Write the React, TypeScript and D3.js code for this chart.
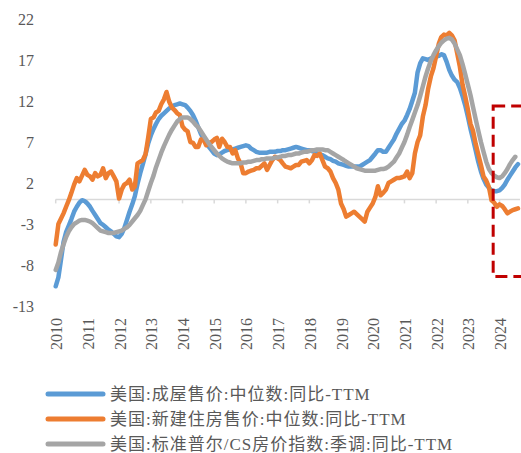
import React from 'react';
import * as d3 from 'd3';

const W = 521, H = 453;

// monthly, Jan 2010 onward (one row per year)
const existingHome = [
  -10.6, -9.5, -7.5, -5.2, -4.0, -3.2, -2.4, -1.5, -0.9, -0.4, -0.1, -0.2,
  -0.5, -0.9, -1.4, -1.9, -2.4, -2.9, -3.1, -3.4, -3.7, -3.9, -4.2, -4.5,
  -4.6, -4.2, -3.5, -2.5, -1.5, -0.6, 0.4, 1.9, 3.2, 4.3, 5.5, 6.8,
  7.8, 8.6, 9.2, 9.8, 10.2, 10.5, 10.8, 11.1, 11.3, 11.5, 11.6, 11.7,
  11.6, 11.5, 11.2, 10.8, 10.3, 9.6, 8.8, 8.0, 7.4, 6.9, 6.4, 6.0,
  5.6, 5.4, 5.5, 5.7, 5.9, 6.0, 6.1, 6.1, 6.2, 6.3, 6.4, 6.5,
  6.6, 6.5, 6.2, 6.0, 5.8, 5.7, 5.7, 5.7, 5.7, 5.8, 5.8, 5.8,
  5.9, 5.9, 6.0, 6.0, 6.1, 6.2, 6.3, 6.4, 6.3, 6.2, 6.1, 6.0,
  6.0, 5.9, 5.8, 5.6, 5.5, 5.4, 5.2, 5.0, 4.9, 4.7, 4.6, 4.4,
  4.3, 4.2, 4.1, 4.0, 4.0, 4.0, 4.0, 4.0, 4.2, 4.4, 4.6, 4.8,
  5.2, 5.6, 6.0, 6.0, 5.8, 5.8, 6.3, 6.8, 7.3, 8.0, 8.6, 9.2,
  9.6, 10.3, 11.0, 12.0, 13.0, 15.5, 16.6, 17.2, 17.1, 17.0, 17.2, 17.3,
  17.4, 17.5, 17.7, 17.6, 16.8, 15.8, 15.1, 14.6, 14.3, 13.6, 12.6, 11.5,
  10.1, 8.6, 7.4, 6.0, 4.6, 3.4, 2.5, 1.8, 1.4, 1.1, 1.0, 1.0,
  1.1, 1.4, 1.8, 2.4, 2.9, 3.4, 3.9, 4.3,
];

const newHome = [
  -5.5, -3.0, -2.4, -1.7, -0.9, -0.1, 0.8, 1.8, 2.6, 2.2, 2.9, 3.6,
  3.0, 2.8, 2.4, 3.2, 2.8, 3.0, 3.8, 2.6, 3.2, 3.4, 2.8, 2.2,
  0.1, 1.2, 1.8, 2.0, 2.4, 1.2, 1.6, 4.4, 4.6, 4.8, 5.5, 7.5,
  9.8, 10.0, 10.6, 10.8, 11.6, 12.2, 13.1, 11.9, 11.2, 10.9, 10.5, 10.3,
  8.9, 8.5, 8.3, 7.0, 6.9, 6.4, 6.4, 7.3, 7.3, 6.6, 6.9, 7.0,
  7.3, 7.5, 6.4, 7.4, 7.0, 6.4, 6.4, 5.6, 6.0, 5.0, 4.4, 3.2,
  3.2, 3.4, 3.5, 3.6, 3.8, 3.8, 4.1, 4.4, 3.6, 4.2, 4.8, 5.2,
  5.0, 4.8, 4.4, 4.0, 3.9, 3.8, 4.0, 4.2, 4.2, 4.6, 4.7, 4.8,
  4.4, 4.8, 5.4, 5.3, 5.6, 4.8, 4.0, 3.8, 3.4, 2.6, 2.0, 1.2,
  -0.5, -1.2, -2.1, -1.9, -1.7, -1.5, -1.8, -2.1, -2.4, -2.7, -1.5, -1.0,
  -0.5, 0.3, 1.6, 0.5, 0.8, 1.2, 2.0, 2.2, 2.4, 2.6, 2.6, 2.7,
  2.8, 3.4, 2.6, 3.2, 5.6, 7.0, 7.8, 10.1, 11.5, 13.5, 15.0, 16.0,
  17.5, 19.0, 19.8, 20.1, 20.0, 20.3, 20.0, 19.4, 17.8, 16.2, 14.0, 12.6,
  11.0, 9.2, 8.4, 6.8, 5.5, 4.2, 2.8, 2.3, 1.5, -0.1, -0.4, -0.9,
  -0.6, -0.8, -1.2, -1.7, -1.5, -1.3, -1.2, -1.1,
];

const caseShiller = [
  -8.6, -7.7, -6.5, -5.5, -4.6, -3.9, -3.4, -3.0, -2.8, -2.6, -2.5, -2.5,
  -2.6, -2.7, -2.9, -3.2, -3.5, -3.8, -3.9, -4.0, -4.1, -4.1, -4.1, -4.0,
  -3.9, -3.8, -3.6, -3.4, -3.1, -2.7, -2.3, -1.9, -1.4, -0.7, 0.0, 1.0,
  2.0, 2.9, 3.9, 4.8, 5.7, 6.5, 7.2, 7.9, 8.5, 9.0, 9.5, 9.8,
  10.0, 10.0, 10.0, 9.8, 9.5, 9.1, 8.8, 8.3, 7.8, 7.3, 6.8, 6.4,
  6.0, 5.6, 5.3, 5.0, 4.8, 4.6, 4.5, 4.4, 4.4, 4.4, 4.4, 4.5,
  4.5, 4.6, 4.6, 4.7, 4.8, 4.8, 4.9, 4.9, 5.0, 5.0, 5.0, 5.1,
  5.1, 5.2, 5.3, 5.3, 5.4, 5.4, 5.5, 5.6, 5.6, 5.7, 5.8, 5.8,
  5.9, 6.0, 6.0, 6.1, 6.1, 6.1, 6.0, 6.0, 5.8, 5.6, 5.4, 5.2,
  5.0, 4.8, 4.6, 4.4, 4.2, 4.0, 3.8, 3.7, 3.6, 3.5, 3.5, 3.5,
  3.5, 3.5, 3.6, 3.7, 3.7, 3.8, 4.0, 4.3, 4.6, 5.1, 5.6, 6.3,
  7.0, 7.9, 8.8, 9.7, 10.6, 11.5, 12.6, 13.8, 15.0, 16.0, 16.9, 17.6,
  18.2, 18.7, 19.1, 19.4, 19.6, 19.7, 19.5, 19.0, 18.3, 17.6, 16.5, 15.3,
  14.0, 12.7, 11.3, 9.8, 8.4, 7.0, 5.8, 4.6, 3.7, 3.2, 2.9, 2.7,
  2.6, 2.8, 3.2, 3.7, 4.3, 4.8, 5.2,
];

const seriesNames = [
  '美国:成屋售价:中位数:同比-TTM',
  '美国:新建住房售价:中位数:同比-TTM',
  '美国:标准普尔/CS房价指数:季调:同比-TTM',
];
const seriesColors = ['#5B9BD5', '#ED7D31', '#A5A5A5'];
const seriesValues = [existingHome, newHome, caseShiller];

const yearLabels = ['2010', '2011', '2012', '2013', '2014', '2015', '2016', '2017',
  '2018', '2019', '2020', '2021', '2022', '2023', '2024'];
const yTicks = [-13, -8, -3, 2, 7, 12, 17, 22];

// highlighted recent period (red dashed box)
const boxStart = new Date(2023, 9, 20);
const boxRange = [-9.4, 11.4];

const serif = "'Liberation Serif', 'Times New Roman', serif";
const legendFont = "'Liberation Serif', 'Noto Sans CJK SC', serif";

export default function App() {
  const x = d3.scaleTime()
    .domain([new Date(2010, 0, 1), new Date(2024, 7, 1)])
    .range([55.7, 518]);
  const y = d3.scaleLinear().domain([-13, 22]).range([306, 19]);

  const line = d3.line<number>()
    .x((_, i) => x(new Date(2010, i, 1)))
    .y(d => y(d));

  const y0 = y(0);

  return (
    <svg width={W} height={H} style={{ position: 'absolute', left: 0, top: 0, background: '#fff' }}>
      {/* zero axis */}
      <line x1={x.range()[0]} x2={x.range()[1] + 2} y1={y0} y2={y0} stroke="#D9D9D9" strokeWidth={1.5} />
      {yearLabels.map(yr => {
        const xx = x(new Date(+yr, 0, 1));
        return (
          <g key={yr}>
            <line x1={xx} x2={xx} y1={y0} y2={y0 + 4} stroke="#D9D9D9" strokeWidth={1.5} />
            <text transform={`translate(${xx + 1},318) rotate(-90)`} textAnchor="end" dy="0.35em"
              fontFamily={serif} fontSize={16} fill="#595959">{yr}</text>
          </g>
        );
      })}
      {yTicks.map(t => (
        <text key={t} x={34} y={y(t)} dy="0.35em" textAnchor="end"
          fontFamily={serif} fontSize={16} fill="#595959">{t}</text>
      ))}

      {seriesValues.map((vals, i) => (
        <path key={i} d={line(vals) || ''} fill="none" stroke={seriesColors[i]}
          strokeWidth={4.5} strokeLinejoin="round" strokeLinecap="round" />
      ))}

      <rect x={x(boxStart)} y={y(boxRange[1])} width={W + 20 - x(boxStart)}
        height={y(boxRange[0]) - y(boxRange[1])} fill="none" stroke="#C00000"
        strokeWidth={3} strokeDasharray="12,6" />

      {seriesNames.map((name, i) => {
        const ly = 394 + i * 25;
        return (
          <g key={name}>
            <line x1={48} x2={103} y1={ly} y2={ly} stroke={seriesColors[i]} strokeWidth={5} strokeLinecap="round" />
            <text x={110} y={ly} dy="0.35em" fontFamily={legendFont} fontSize={17} letterSpacing={1}
              fill="#595959">{name}</text>
          </g>
        );
      })}
    </svg>
  );
}
